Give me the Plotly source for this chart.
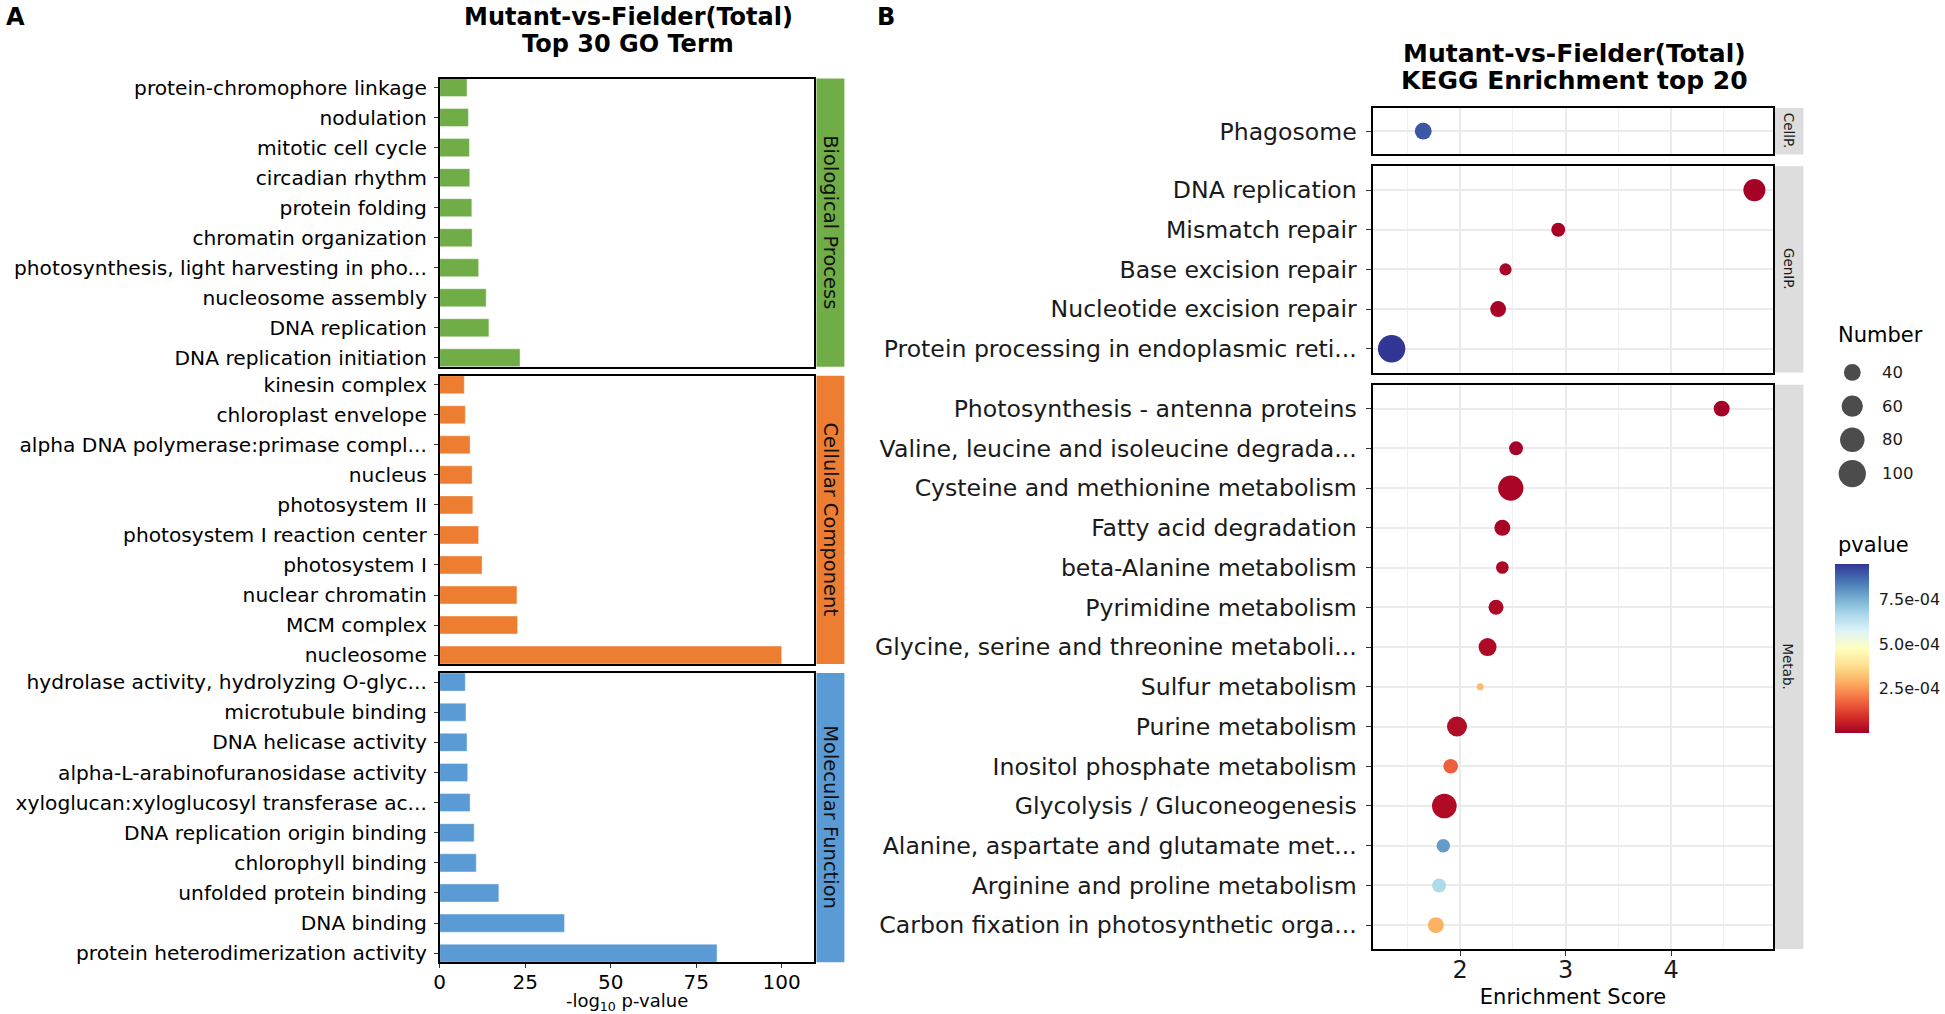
import numpy as np
import plotly.graph_objects as go

W, H = 1945, 1014
FONT = "DejaVu Sans"

# ---------------- Panel A data (top-to-bottom within each facet) ----------------
bp_terms = ["protein-chromophore linkage", "nodulation", "mitotic cell cycle", "circadian rhythm",
            "protein folding", "chromatin organization", "photosynthesis, light harvesting in pho...",
            "nucleosome assembly", "DNA replication", "DNA replication initiation"]
bp_values = [8.0, 8.4, 8.7, 8.8, 9.4, 9.5, 11.4, 13.6, 14.4, 23.5]

cc_terms = ["kinesin complex", "chloroplast envelope", "alpha DNA polymerase:primase compl...", "nucleus",
            "photosystem II", "photosystem I reaction center", "photosystem I", "nuclear chromatin",
            "MCM complex", "nucleosome"]
cc_values = [7.2, 7.5, 8.9, 9.5, 9.7, 11.4, 12.4, 22.6, 22.8, 100.0]

mf_terms = ["hydrolase activity, hydrolyzing O-glyc...", "microtubule binding", "DNA helicase activity",
            "alpha-L-arabinofuranosidase activity", "xyloglucan:xyloglucosyl transferase ac...",
            "DNA replication origin binding", "chlorophyll binding", "unfolded protein binding",
            "DNA binding", "protein heterodimerization activity"]
mf_values = [7.5, 7.7, 8.0, 8.2, 8.9, 10.1, 10.7, 17.3, 36.5, 81.1]

go_categories = ["Biological Process", "Cellular Component", "Molecular Function"]
go_colors = ["#70AD47", "#ED7D31", "#5B9BD5"]
go_xticks = [0, 25, 50, 75, 100]
go_xmax = 109.6

# ---------------- Panel B data ----------------
cellp_terms = ["Phagosome"]
cellp_score = [1.65]
cellp_number = [40]
cellp_p = [9.0e-4]

genip_terms = ["DNA replication", "Mismatch repair", "Base excision repair", "Nucleotide excision repair",
               "Protein processing in endoplasmic reti..."]
genip_score = [4.79, 2.93, 2.43, 2.36, 1.35]
genip_number = [65, 31, 27, 37, 101]
genip_p = [2e-9, 3e-6, 1e-5, 6e-6, 9.5e-4]

metab_terms = ["Photosynthesis - antenna proteins", "Valine, leucine and isoleucine degrada...",
               "Cysteine and methionine metabolism", "Fatty acid degradation", "beta-Alanine metabolism",
               "Pyrimidine metabolism", "Glycine, serine and threonine metaboli...", "Sulfur metabolism",
               "Purine metabolism", "Inositol phosphate metabolism", "Glycolysis / Gluconeogenesis",
               "Alanine, aspartate and glutamate met...", "Arginine and proline metabolism",
               "Carbon fixation in photosynthetic orga..."]
metab_score = [4.48, 2.53, 2.48, 2.40, 2.40, 2.34, 2.26, 2.19, 1.97, 1.91, 1.85, 1.84, 1.80, 1.77]
metab_number = [37, 31, 85, 37, 28, 34, 45, 22, 54, 33, 81, 30, 31, 37]
metab_p = [1e-7, 2e-6, 1e-5, 8e-6, 1.2e-5, 1.5e-5, 1.8e-5, 3.1e-4, 2.5e-5, 1.7e-4, 2e-5, 7.9e-4, 6.6e-4, 2.9e-4]

kegg_facets = ["CellP.", "GenIP.", "Metab."]
kegg_xticks = [2, 3, 4]
kegg_xminor = [1.5, 2.5, 3.5, 4.5]
size_breaks = [40, 60, 80, 100]
p_ticks = [2.5e-4, 5.0e-4, 7.5e-4]
p_ticktext = ["2.5e-04", "5.0e-04", "7.5e-04"]

RDYLBU = [[0.0, "rgb(165,0,38)"], [0.1, "rgb(215,48,39)"], [0.2, "rgb(244,109,67)"],
          [0.3, "rgb(253,174,97)"], [0.4, "rgb(254,224,144)"], [0.5, "rgb(255,255,191)"],
          [0.6, "rgb(224,243,248)"], [0.7, "rgb(171,217,233)"], [0.8, "rgb(116,173,209)"],
          [0.9, "rgb(69,117,180)"], [1.0, "rgb(49,54,149)"]]


def px_x(x):
    return x / W


def px_y(y):
    return 1 - y / H


def diam(n):
    n = np.asarray(n, dtype=float)
    return 7 + 2.3 * np.sqrt(np.clip(n - 22, 0, None))


fig = go.Figure()
layout = dict(
    width=W, height=H, margin=dict(l=0, r=0, t=0, b=0),
    paper_bgcolor="white", plot_bgcolor="white", showlegend=False,
    font=dict(family=FONT, color="black"),
)
shapes = []
annotations = []

# ---------------- Panel A ----------------
A_x = (435, 811)
A_y = [(76, 366), (375, 665), (674, 965)]
STRIP_A = (813, 841)
go_terms = [bp_terms, cc_terms, mf_terms]
go_vals = [bp_values, cc_values, mf_values]
for i in range(3):
    k = i + 1
    xs = "x" if k == 1 else f"x{k}"
    ys = "y" if k == 1 else f"y{k}"
    fig.add_trace(go.Bar(y=go_terms[i], x=go_vals[i], orientation="h", width=0.6,
                         marker=dict(color=go_colors[i], line=dict(color="rgba(255,255,255,0.5)", width=0.8)),
                         xaxis=xs, yaxis=ys, hoverinfo="x+y"))
    bottom = (i == 2)
    xa = dict(domain=[px_x(A_x[0]), px_x(A_x[1])], anchor=ys, range=[0, go_xmax],
              showline=True, mirror=True, linecolor="black", linewidth=1.5,
              showgrid=False, zeroline=False, tickvals=go_xticks,
              showticklabels=bottom, ticks="outside" if bottom else "", ticklen=4, tickcolor="#333",
              tickfont=dict(size=20, color="black"))
    if bottom:
        xa["ticklabelstandoff"] = -3
        xa["title"] = dict(text="-log<sub>10</sub> p-value", font=dict(size=18), standoff=5)
    n = len(go_terms[i])
    ya = dict(domain=[px_y(A_y[i][1]), px_y(A_y[i][0])], anchor=xs, type="category",
              categoryorder="array", categoryarray=go_terms[i], range=[n - 1 + 0.3, -0.3],
              showline=True, mirror=True, linecolor="black", linewidth=1.5,
              showgrid=False, zeroline=False, ticks="outside", ticklen=4, tickcolor="#333",
              tickfont=dict(size=20.2, color="black"), ticklabelstandoff=3)
    layout["xaxis" if k == 1 else f"xaxis{k}"] = xa
    layout["yaxis" if k == 1 else f"yaxis{k}"] = ya
    # strip
    shapes.append(dict(type="rect", xref="paper", yref="paper", x0=px_x(STRIP_A[0]), x1=px_x(STRIP_A[1]),
                       y0=px_y(A_y[i][1]), y1=px_y(A_y[i][0]), fillcolor=go_colors[i], line=dict(width=0)))
    annotations.append(dict(xref="paper", yref="paper", x=px_x((STRIP_A[0] + STRIP_A[1]) / 2),
                            y=px_y((A_y[i][0] + A_y[i][1]) / 2),
                            text=go_categories[i], textangle=90, showarrow=False,
                            font=dict(size=19.5, color="#111"), xanchor="center", yanchor="middle"))

# ---------------- Panel B ----------------
B_x = (1371.7, 1772)
B_y = [(105.7, 152.3), (164.3, 371.7), (384, 951.7)]
k_terms = [cellp_terms, genip_terms, metab_terms]
k_score = [cellp_score, genip_score, metab_score]
k_num = [cellp_number, genip_number, metab_number]
k_p = [cellp_p, genip_p, metab_p]
all_scores = cellp_score + genip_score + metab_score
all_p = cellp_p + genip_p + metab_p
smin, smax = min(all_scores), max(all_scores)
pad = 0.05 * (smax - smin)
xr = [smin - pad, smax + pad]

for i in range(3):
    k = i + 4
    xs, ys = f"x{k}", f"y{k}"
    fig.add_trace(go.Scatter(x=k_score[i], y=k_terms[i], mode="markers", xaxis=xs, yaxis=ys,
                             marker=dict(size=diam(k_num[i]), color=k_p[i], coloraxis="coloraxis",
                                         line=dict(width=0), opacity=1),
                             hovertext=[f"Number {v}" for v in k_num[i]]))
    bottom = (i == 2)
    xa = dict(domain=[px_x(B_x[0]), px_x(B_x[1])], anchor=ys, range=xr,
              showline=True, mirror=True, linecolor="black", linewidth=2,
              showgrid=True, gridcolor="#ebebeb", gridwidth=1.5, zeroline=False,
              tickvals=kegg_xticks, showticklabels=bottom, ticks="outside" if bottom else "",
              ticklen=5, tickcolor="#333", tickfont=dict(size=24, color="#1a1a1a"),
              minor=dict(tickvals=kegg_xminor, showgrid=True, gridcolor="#f0f0f0", gridwidth=1))
    if bottom:
        xa["ticklabelstandoff"] = -7
        xa["title"] = dict(text="Enrichment Score", font=dict(size=21, color="black"), standoff=6)
    n = len(k_terms[i])
    ya = dict(domain=[px_y(B_y[i][1]), px_y(B_y[i][0])], anchor=xs, type="category",
              categoryorder="array", categoryarray=k_terms[i], range=[n - 1 + 0.6, -0.6],
              showline=True, mirror=True, linecolor="black", linewidth=2,
              showgrid=True, gridcolor="#ebebeb", gridwidth=1.5, zeroline=False,
              ticks="outside", ticklen=5, tickcolor="#333",
              tickfont=dict(size=23.6, color="#1a1a1a"), ticklabelstandoff=5)
    layout[f"xaxis{k}"] = xa
    layout[f"yaxis{k}"] = ya
    shapes.append(dict(type="rect", xref="paper", yref="paper", x0=px_x(1773), x1=px_x(1803),
                       y0=px_y(B_y[i][1]), y1=px_y(B_y[i][0]), fillcolor="#dddddd", line=dict(width=0),
                       layer="below"))
    annotations.append(dict(xref="paper", yref="paper", x=px_x(1788), y=px_y((B_y[i][0] + B_y[i][1]) / 2),
                            text=kegg_facets[i], textangle=90, showarrow=False,
                            font=dict(size=13.5, color="#1a1a1a"), xanchor="center", yanchor="middle"))

layout["coloraxis"] = dict(
    colorscale=RDYLBU, cmin=min(all_p), cmax=max(all_p),
    colorbar=dict(x=px_x(1835), xanchor="left", y=px_y(649.5), yanchor="middle",
                  len=169, lenmode="pixels", thickness=34, thicknessmode="pixels",
                  xpad=0, ypad=0, outlinewidth=0, tickvals=p_ticks, ticktext=p_ticktext,
                  ticks="outside", ticklen=7, tickcolor="rgba(0,0,0,0)",
                  tickfont=dict(size=16, color="#1a1a1a")),
)

# size legend (Number)
fig.add_trace(go.Scatter(x=[0.5] * len(size_breaks), y=[str(b) for b in size_breaks], mode="markers",
                         xaxis="x7", yaxis="y7", marker=dict(size=diam(size_breaks), color="black",
                                                               line=dict(width=0)), hoverinfo="skip"))
layout["xaxis7"] = dict(domain=[px_x(1836), px_x(1868)], anchor="y7", range=[0, 1], visible=False)
layout["yaxis7"] = dict(domain=[px_y(490.3), px_y(354.7)], anchor="x7", type="category",
                        categoryorder="array", categoryarray=[str(b) for b in size_breaks],
                        range=[len(size_breaks) - 0.5, -0.5], visible=False)
for j, b in enumerate(size_breaks):
    annotations.append(dict(xref="paper", yref="y7", x=px_x(1880), y=j, text=str(b), showarrow=False,
                            xanchor="left", yanchor="middle", font=dict(size=16.5, color="#1a1a1a")))
annotations.append(dict(xref="paper", yref="paper", x=px_x(1836), y=px_y(334), text="Number",
                        showarrow=False, xanchor="left", yanchor="middle", font=dict(size=21, color="black")))
annotations.append(dict(xref="paper", yref="paper", x=px_x(1836), y=px_y(545), text="pvalue",
                        showarrow=False, xanchor="left", yanchor="middle", font=dict(size=21, color="black")))

# titles and panel letters
titles = [("<b>Mutant-vs-Fielder(Total)</b>", 624, 14, 24), ("<b>Top 30 GO Term</b>", 624, 41, 24),
          ("<b>Mutant-vs-Fielder(Total)</b>", 1573, 51, 25), ("<b>KEGG Enrichment top 20</b>", 1573, 78, 25)]
for t, x, y, fs in titles:
    annotations.append(dict(xref="paper", yref="paper", x=px_x(x), y=px_y(y), text=t, showarrow=False,
                            xanchor="center", yanchor="middle", font=dict(size=fs, color="black")))
annotations.append(dict(xref="paper", yref="paper", x=px_x(10), y=px_y(14), text="<b>A</b>", showarrow=False,
                        xanchor="center", yanchor="middle", font=dict(size=24, color="black")))
annotations.append(dict(xref="paper", yref="paper", x=px_x(883), y=px_y(14), text="<b>B</b>", showarrow=False,
                        xanchor="center", yanchor="middle", font=dict(size=24, color="black")))

layout["shapes"] = shapes
layout["annotations"] = annotations
fig.update_layout(**layout)
fig.write_html("out.html", config={"displayModeBar": False},
               post_script="document.body.style.margin='0px';")
